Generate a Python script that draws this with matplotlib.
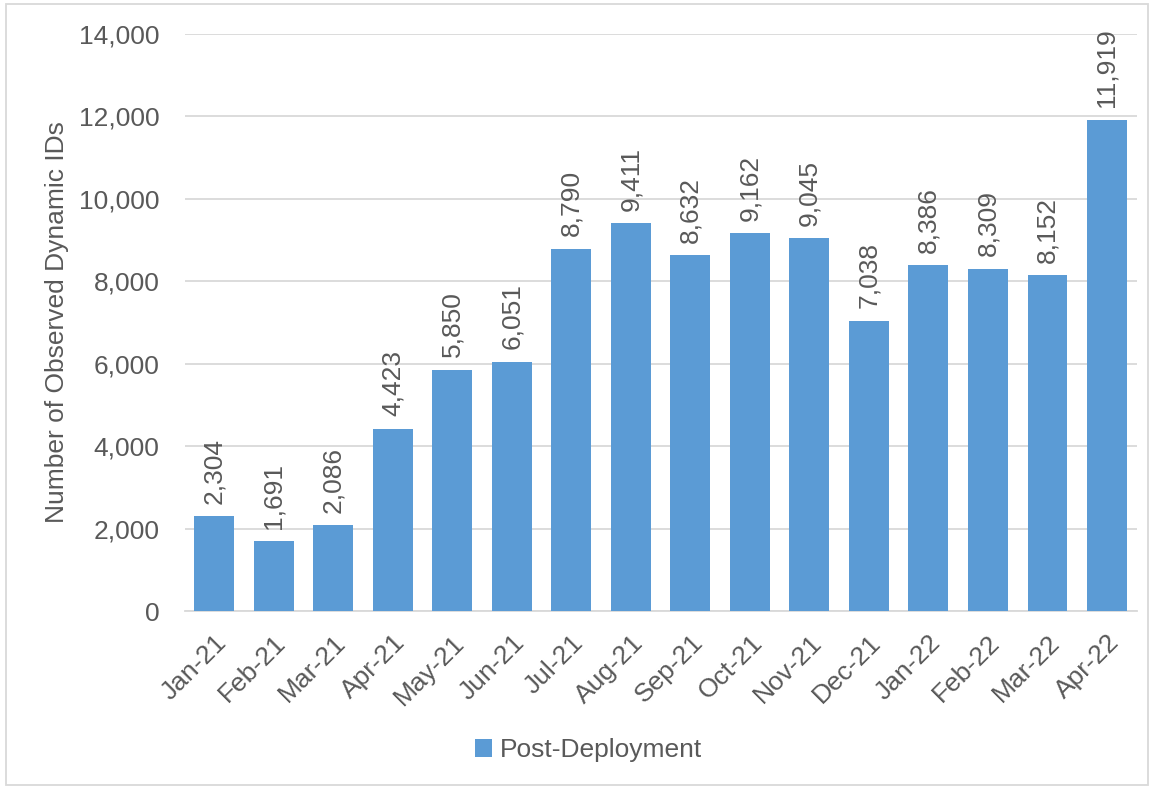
import numpy as np
import matplotlib.pyplot as plt

months = ["Jan-21", "Feb-21", "Mar-21", "Apr-21", "May-21", "Jun-21", "Jul-21", "Aug-21",
          "Sep-21", "Oct-21", "Nov-21", "Dec-21", "Jan-22", "Feb-22", "Mar-22", "Apr-22"]
counts = [2304, 1691, 2086, 4423, 5850, 6051, 8790, 9411,
          8632, 9162, 9045, 7038, 8386, 8309, 8152, 11919]

plt.rcParams['font.family'] = ['Liberation Sans', 'DejaVu Sans']
txt = '#595959'
blue = '#5B9BD5'
fs = 19

fig = plt.figure(figsize=(11.54, 7.89), dpi=100)
ax = fig.add_axes([0.160, 0.2256, 0.825, 0.7313])

x = np.arange(len(months))
bars = ax.bar(x, counts, width=0.67, color=blue, label='Post-Deployment', zorder=3)

# value labels above each bar
for xi, v in zip(x, counts):
    ax.annotate(f"{v:,}", (xi, v), xytext=(0, 9), textcoords='offset points',
                rotation=90, ha='center', va='bottom', fontsize=fs, color=txt)

ax.set_xlim(-0.5, len(months) - 0.5)
ax.set_ylim(0, 14000)
ax.set_yticks(np.arange(0, 14001, 2000))
ax.set_yticklabels([f"{t:,}" for t in range(0, 14001, 2000)])
ax.set_xticks(x)
ax.set_xticklabels(months, rotation=45, ha='right', rotation_mode='anchor')

ax.tick_params(axis='both', length=0, labelsize=fs, labelcolor=txt)
ax.tick_params(axis='y', pad=18)
ax.tick_params(axis='x', pad=14)
ax.grid(axis='y', color='#D9D9D9', linewidth=1.3, zorder=0)
for s in ['top', 'right', 'left']:
    ax.spines[s].set_visible(False)
ax.spines['bottom'].set_color('#D9D9D9')
ax.spines['bottom'].set_linewidth(1.3)

ax.set_ylabel("Number of Observed Dynamic IDs", fontsize=fs, color=txt, labelpad=7)

leg = fig.legend(handles=[bars], labels=['Post-Deployment'], loc='center',
                 bbox_to_anchor=(0.51, 0.049), frameon=False, fontsize=fs,
                 handlelength=0.65, handleheight=0.65, handletextpad=0.3)
for t in leg.get_texts():
    t.set_color(txt)

# thin border around the whole chart
fig.patches.append(plt.Rectangle((0.005, 0.005), 0.99, 0.99, transform=fig.transFigure,
                                 fill=False, edgecolor='#D9D9D9', linewidth=1.3))

fig.savefig("out.png", dpi=100)
